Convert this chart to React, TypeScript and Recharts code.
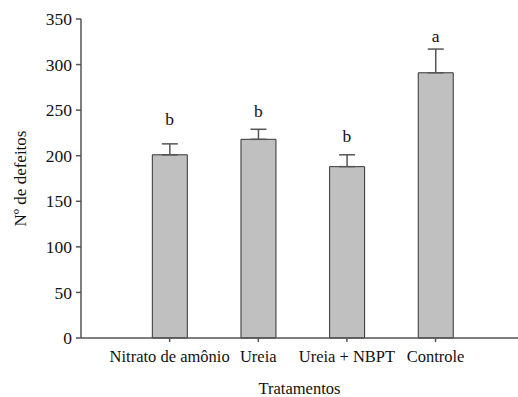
import { ComposedChart, Bar, Line, XAxis, YAxis, ErrorBar, LabelList } from 'recharts';

const categories = ['Nitrato de amônio', 'Ureia', 'Ureia + NBPT', 'Controle'];
const positions = [1, 2, 3, 4];
const means = [201, 218, 188, 291];
const errors = [12, 11, 13, 26];
const letters = ['b', 'b', 'b', 'a'];
const letterHeights = [234, 242, 215, 325];
const yTicks = [0, 50, 100, 150, 200, 250, 300, 350];

const data = positions.map((pos, i) => ({
  pos,
  name: categories[i],
  mean: means[i],
  err: [0, errors[i]],
  letterY: letterHeights[i],
  letter: letters[i],
}));

const font = '"Liberation Serif", "Times New Roman", serif';
const axisColor = '#555';

const LetterLabel = (props: any) => {
  const { x, y, value } = props;
  return (
    <text x={x} y={y} textAnchor="middle" fontFamily={font} fontSize={17.5} fill="#111">
      {value}
    </text>
  );
};

const YTitle = (props: any) => {
  const { viewBox } = props;
  const cy = viewBox.y + viewBox.height / 2;
  return (
    <text
      x={20}
      y={cy}
      transform={`rotate(-90, 20, ${cy})`}
      textAnchor="middle"
      dominantBaseline="central"
      fontFamily={font}
      fontSize={17}
      fill="#111"
    >
      Nº de defeitos
    </text>
  );
};

export default function App() {
  return (
    <div style={{ position: 'absolute', left: 0, top: 0, width: 518, height: 397, background: '#fff' }}>
      <ComposedChart width={518} height={397} data={data} margin={{ top: 19, right: 0, bottom: 0, left: 0 }}>
        <XAxis
          dataKey="pos"
          type="number"
          domain={[0, 4.93]}
          ticks={positions}
          tickFormatter={(v: number) => categories[v - 1] ?? ''}
          allowDataOverflow
          height={59}
          stroke={axisColor}
          strokeWidth={1.5}
          tickSize={4}
          tickMargin={8}
          tick={{ fontFamily: font, fontSize: 16.5, fill: '#111' }}
          interval={0}
          label={{ value: 'Tratamentos', position: 'insideBottom', offset: 3, fontFamily: font, fontSize: 16.5, fill: '#111' }}
        />
        <YAxis
          type="number"
          domain={[0, 350]}
          ticks={yTicks}
          width={81}
          stroke={axisColor}
          strokeWidth={1.5}
          tickSize={5}
          tickMargin={4}
          tick={{ fontFamily: font, fontSize: 17.5, fill: '#111' }}
          label={<YTitle />}
        />
        <Bar dataKey="mean" barSize={35} fill="#c0c0c0" stroke="#333" strokeWidth={1} isAnimationActive={false}>
          <ErrorBar dataKey="err" width={8} stroke="#555" strokeWidth={1.5} direction="y" />
        </Bar>
        <Line dataKey="letterY" stroke="none" dot={false} activeDot={false} isAnimationActive={false}>
          <LabelList dataKey="letter" content={<LetterLabel />} />
        </Line>
      </ComposedChart>
    </div>
  );
}
